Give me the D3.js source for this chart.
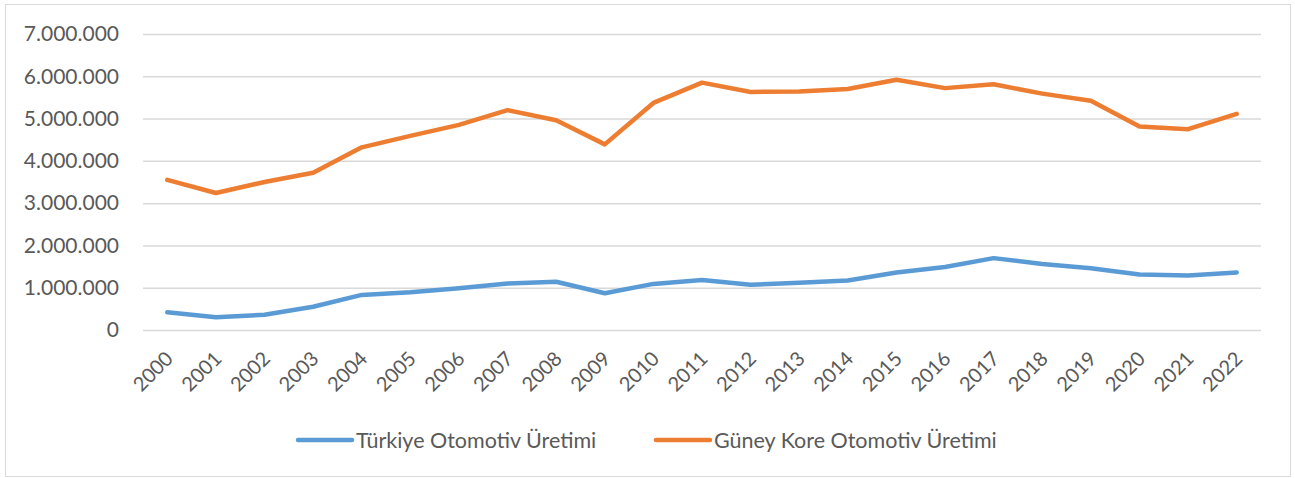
<!DOCTYPE html>
<html>
<head>
<meta charset="utf-8">
<script src="https://cdn.jsdelivr.net/npm/d3@7"></script>
<style>
  body { margin: 0; background: #fff; }
  svg text { font-family: Lato, "Noto Sans", sans-serif; fill: #595959; }
</style>
</head>
<body>
<svg width="1295" height="478"></svg>
<script>
const years = ['2000', '2001', '2002', '2003', '2004', '2005', '2006', '2007', '2008', '2009', '2010',
  '2011', '2012', '2013', '2014', '2015', '2016', '2017', '2018', '2019', '2020', '2021', '2022'];
const turkiye = [420000, 300000, 360000, 550000, 830000, 890000, 990000, 1100000, 1140000, 870000, 1090000,
  1180000, 1070000, 1120000, 1170000, 1360000, 1490000, 1700000, 1560000, 1460000, 1310000, 1290000, 1360000];
const guneyKore = [3550000, 3240000, 3500000, 3720000, 4320000, 4590000, 4850000, 5200000, 4960000, 4390000, 5370000,
  5850000, 5630000, 5640000, 5700000, 5920000, 5720000, 5810000, 5590000, 5420000, 4810000, 4750000, 5110000];
const yTicks = [0, 1000000, 2000000, 3000000, 4000000, 5000000, 6000000, 7000000];
const seriesNames = ['Türkiye Otomotiv Üretimi', 'Güney Kore Otomotiv Üretimi'];
const colors = ['#5B9BD5', '#ED7D31'];

const svg = d3.select('svg');
const margin = { top: 34, right: 34, bottom: 148, left: 143 };
const width = +svg.attr('width') - margin.left - margin.right;
const height = +svg.attr('height') - margin.top - margin.bottom;

const fmt = d3.formatLocale({ decimal: ',', thousands: '.', grouping: [3], currency: ['', ''] }).format(',.0f');

const x = d3.scaleBand().domain(years).range([0, width]);
const y = d3.scaleLinear().domain([0, 7000000]).range([height, 0]);

// chart frame
svg.append('rect')
  .attr('x', 5.5).attr('y', 4.5)
  .attr('width', 1285).attr('height', 472)
  .attr('fill', 'none')
  .attr('stroke', '#d9d9d9');

const g = svg.append('g').attr('transform', `translate(${margin.left},${margin.top})`);

const yAxis = g.append('g')
  .call(d3.axisLeft(y).tickValues(yTicks).tickSize(-width).tickPadding(24).tickFormat(fmt));
yAxis.select('.domain').remove();
yAxis.selectAll('.tick line').attr('stroke', '#d9d9d9').attr('stroke-width', 1.5);
yAxis.selectAll('.tick text').attr('font-size', 21).attr('fill', '#595959');

const xAxis = g.append('g')
  .attr('transform', `translate(0,${height})`)
  .call(d3.axisBottom(x).tickSize(0).tickPadding(0));
xAxis.select('.domain').remove();
xAxis.selectAll('.tick text')
  .attr('font-size', 20)
  .attr('fill', '#595959')
  .attr('text-anchor', 'end')
  .attr('dy', '0.35em')
  .attr('transform', 'translate(2,25) rotate(-45)');

const line = d3.line()
  .x((d, i) => x(years[i]) + x.bandwidth() / 2)
  .y(d => y(d));

[turkiye, guneyKore].forEach((data, i) => {
  g.append('path')
    .datum(data)
    .attr('fill', 'none')
    .attr('stroke', colors[i])
    .attr('stroke-width', 4.5)
    .attr('stroke-linejoin', 'round')
    .attr('stroke-linecap', 'round')
    .attr('d', line);
});

// legend
const legendX = [298, 656];
const legend = svg.append('g').attr('transform', 'translate(0,440)');
seriesNames.forEach((name, i) => {
  legend.append('line')
    .attr('x1', legendX[i]).attr('x2', legendX[i] + 54)
    .attr('y1', 0).attr('y2', 0)
    .attr('stroke', colors[i])
    .attr('stroke-width', 4.5)
    .attr('stroke-linecap', 'round');
  legend.append('text')
    .attr('x', legendX[i] + 58)
    .attr('y', 0)
    .attr('dy', '0.35em')
    .attr('font-size', 21.5)
    .text(name);
});
</script>
</body>
</html>
